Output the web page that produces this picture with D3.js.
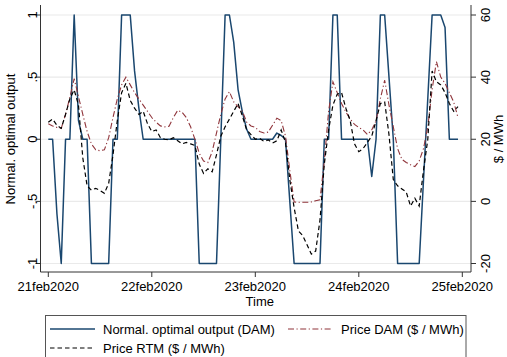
<!DOCTYPE html>
<html><head><meta charset="utf-8">
<script src="https://cdn.jsdelivr.net/npm/d3@7"></script>
<style>
body{margin:0;background:#fff;}
text{font-family:"Liberation Sans",Arial,Helvetica,sans-serif;}
</style></head>
<body><svg id="c" width="507" height="357"></svg>
<script>
// ---- data (hourly, starting 21feb2020 00:00) ----
const startDate = Date.UTC(2020,1,21,0);
const tickDates = ["21feb2020","22feb2020","23feb2020","24feb2020","25feb2020"];
const leftTicks = [-1,-0.5,0,0.5,1];
const leftTickLabels = ["-1","-.5","0",".5","1"];
const rightTicks = [-20,0,20,40,60];
const seriesNames = ["Normal. optimal output (DAM)","Price DAM ($ / MWh)","Price RTM ($ / MWh)"];

const output = [0,0,-0.6,-1,0,0,1,0.15,0,0,-1,-1,-1,-1,-1,0,0,1,1,1,0.55,0.25,0,0,
0,0,0,0,0,0,0,0,0,0,0,-1,-1,-1,-1,-1,0,1,1,0.78,0.4,0.22,0.08,0,
0,0,0,0,0,0.05,0.03,0,-0.5,-1,-1,-1,-1,-1,-1,-1,0,0,1,1,0,0,0,0,
0,0,0,-0.3,0,1,1,0.5,0,-1,-1,-1,-1,-1,-1,-0.33,0.33,1,1,1,0.9,0,0,0];

const priceDAM = [25,24.3,23.8,23.5,28,33.5,39.5,33.7,28,22.5,18.5,16.6,16.3,16.6,20.5,27,33,37.5,40,37.5,35,33,31,29,
27,25.5,24.3,24,24.2,27,29.3,28.7,27,24,20,15.5,13,12.5,16,22,28,33,35.3,32,30.5,29,25.5,24.3,
23.8,22.5,22,22.3,24.5,26.8,26,21,10,-0.2,-0.3,-0.3,-0.3,-0.2,0.2,0.5,13,29,38.5,35,31.5,28.8,26.5,24.8,
23.8,23,21.5,23,26,33,39,31,24,17,13.5,12.5,11.8,11.2,13,17,24,36,45,40,38,35,32,27];

const priceRTM = [25.5,26.5,24.5,23.5,28,33,35.9,31,14,5,3.6,4.2,3.5,2.6,5.8,15,26,35,38,32.5,30,28,29,25,
22.5,23,20.5,20,19.8,20.5,19.5,18.5,19,18.5,18,12,9,10.5,9.5,15,21,24,26.5,29,31.5,27.5,23,21.5,
20,20.3,19.3,19.8,18.8,19.5,23,19,7,-2,-9.5,-11,-14,-17,-16,-6,12,23,31,34.5,35,30,26,18.5,
16,17,19,21,26,31.5,32,21.5,7,5,4,3,-1.5,1,-1.5,10,20,42,38.5,37.5,35,31.5,29,30.5];

// ---- chart ----
const svg = d3.select("#c");
const W = 507, H = 357;
const plot = {x0:40.5, x1:471, y0:5, y1:272};
const times = output.map((d,i)=> new Date(startDate + i*3600e3));

const x = d3.scaleUtc().domain([new Date(Date.UTC(2020,1,21)), new Date(Date.UTC(2020,1,25))]).range([48.3, 462.3]);
const yL = d3.scaleLinear().domain([-1,1]).range([263.5,15]);
const yR = d3.scaleLinear().domain([-20,60]).range([263.5,15]);

const navy = "#1a476f", maroon = "#90353b";

// gridlines
svg.append("g").selectAll("line").data(leftTicks).join("line")
  .attr("x1", plot.x0).attr("x2", plot.x1)
  .attr("y1", d=>yL(d)).attr("y2", d=>yL(d))
  .attr("stroke","#eaeaea").attr("stroke-width",1.2);

// series
const lineL = d3.line().x((d,i)=>x(times[i])).y(d=>yL(d));
const lineR = d3.line().x((d,i)=>x(times[i])).y(d=>yR(d));
svg.append("path").attr("d", lineL(output)).attr("fill","none").attr("stroke",navy).attr("stroke-width",1.5).attr("stroke-linejoin","round");
svg.append("path").attr("d", lineR(priceDAM)).attr("fill","none").attr("stroke",maroon).attr("stroke-width",1.1).attr("stroke-dasharray","6,2.5,1.2,2.5");
svg.append("path").attr("d", lineR(priceRTM)).attr("fill","none").attr("stroke","#000").attr("stroke-width",1.2).attr("stroke-dasharray","4.5,3");

// axes lines
const axisCol = "#333";
svg.append("line").attr("x1",plot.x0).attr("x2",plot.x0).attr("y1",plot.y0).attr("y2",plot.y1).attr("stroke",axisCol).attr("stroke-width",1);
svg.append("line").attr("x1",plot.x1).attr("x2",plot.x1).attr("y1",plot.y0).attr("y2",plot.y1).attr("stroke",axisCol).attr("stroke-width",1);
svg.append("line").attr("x1",plot.x0).attr("x2",plot.x1).attr("y1",plot.y1).attr("y2",plot.y1).attr("stroke",axisCol).attr("stroke-width",1);

// left ticks
const gl = svg.append("g");
leftTicks.forEach((t,i)=>{
  gl.append("line").attr("x1",plot.x0-5).attr("x2",plot.x0).attr("y1",yL(t)).attr("y2",yL(t)).attr("stroke",axisCol);
  gl.append("text").attr("transform",`translate(37,${yL(t)}) rotate(-90)`).attr("text-anchor","middle").attr("font-size",13).text(leftTickLabels[i]);
});
// right ticks
rightTicks.forEach(t=>{
  gl.append("line").attr("x1",plot.x1).attr("x2",plot.x1+5).attr("y1",yR(t)).attr("y2",yR(t)).attr("stroke",axisCol);
  gl.append("text").attr("transform",`translate(490,${yR(t)}) rotate(-90)`).attr("text-anchor","middle").attr("font-size",13).text(t);
});
// x ticks
const xt = tickDates.map((s,i)=> new Date(Date.UTC(2020,1,21+i)));
xt.forEach((d,i)=>{
  gl.append("line").attr("x1",x(d)).attr("x2",x(d)).attr("y1",plot.y1).attr("y2",plot.y1+5).attr("stroke",axisCol);
  gl.append("text").attr("x",x(d)).attr("y",291).attr("text-anchor","middle").attr("font-size",13).text(tickDates[i]);
});
// titles
svg.append("text").attr("x",(plot.x0+plot.x1)/2 + 4).attr("y",305.5).attr("text-anchor","middle").attr("font-size",13).text("Time");
svg.append("text").attr("transform","translate(14.5,139) rotate(-90)").attr("text-anchor","middle").attr("font-size",13).text("Normal. optimal output");
svg.append("text").attr("transform","translate(503,139) rotate(-90)").attr("text-anchor","middle").attr("font-size",13).text("$ / MWh");

// legend
const lg = svg.append("g");
lg.append("rect").attr("x",45.5).attr("y",315.5).attr("width",420.5).attr("height",60).attr("fill","#fff").attr("stroke","#555").attr("stroke-width",1);
const items = [
  {x:50, y:329, col:navy, dash:null, w:1.5, tx:103, ty:333.5},
  {x:288, y:329, col:maroon, dash:"6,2.5,1.2,2.5", w:1.1, tx:341, ty:333.5},
  {x:50, y:348, col:"#000", dash:"4.5,3", w:1.2, tx:103, ty:352.5}
];
items.forEach((it,i)=>{
  const l = lg.append("line").attr("x1",it.x).attr("x2",it.x+45).attr("y1",it.y).attr("y2",it.y).attr("stroke",it.col).attr("stroke-width",it.w);
  if(it.dash) l.attr("stroke-dasharray",it.dash);
  lg.append("text").attr("x",it.tx).attr("y",it.ty).attr("font-size",13).text(seriesNames[i]);
});
</script></body></html>
